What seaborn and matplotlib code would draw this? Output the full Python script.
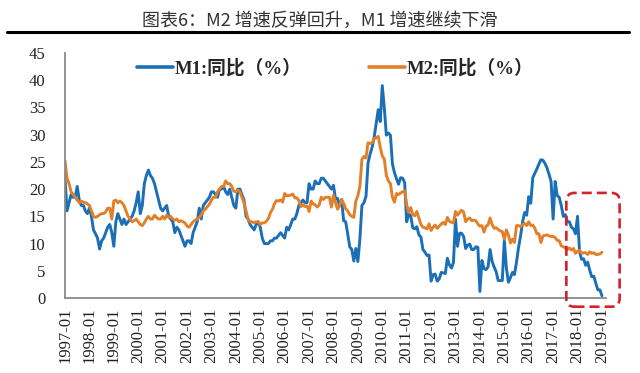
import matplotlib
matplotlib.use("Agg")
import matplotlib.pyplot as plt
from matplotlib.patches import FancyBboxPatch
from matplotlib.lines import Line2D
import seaborn as sns
import pandas as pd

# monthly yoy growth, 1997-01 .. 2019-01
m1 = [
    22.0, 16.0, 17.5, 19.0, 18.5, 18.5, 20.5, 18.0, 17.0, 17.0, 16.0, 15.5,  # 1997
    16.5, 15.0, 12.5, 11.8, 11.0, 9.0, 10.5, 11.0, 12.0, 13.0, 13.5, 12.0,   # 1998
    9.5, 14.0, 15.5, 14.5, 13.5, 14.5, 13.5, 14.0, 14.5, 15.0, 16.0, 17.5,   # 1999
    19.5, 15.5, 17.0, 21.0, 22.5, 23.5, 22.5, 22.0, 21.0, 19.5, 18.0, 16.5,  # 2000
    16.0, 16.5, 17.0, 15.0, 14.5, 14.0, 12.0, 13.0, 12.5, 11.5, 10.5, 9.5,   # 2001
    10.5, 10.5, 10.0, 12.0, 13.0, 14.0, 16.5, 14.5, 17.0, 17.5, 18.0, 18.5,  # 2002
    19.5, 19.5, 19.0, 18.5, 20.0, 20.0, 20.5, 19.5, 19.0, 20.0, 18.5, 17.0,  # 2003
    16.5, 20.0, 20.0, 19.0, 18.0, 15.0, 14.5, 13.5, 13.0, 12.5, 13.5, 14.0,  # 2004
    13.0, 11.0, 10.0, 10.0, 10.0, 10.5, 10.5, 11.0, 11.0, 11.5, 12.0, 11.5,  # 2005
    11.0, 13.0, 12.5, 13.5, 14.5, 14.5, 15.5, 17.0, 17.5, 18.0, 17.5, 17.5,  # 2006
    21.0, 20.0, 20.0, 21.5, 21.0, 21.0, 22.0, 22.0, 21.5, 21.0, 20.5, 20.0,  # 2007
    20.7, 18.2, 18.3, 16.9, 18.1, 14.2, 14.0, 11.8, 9.4, 8.9, 6.8, 9.1,      # 2008
    6.7, 10.9, 17.0, 17.5, 18.7, 24.8, 26.4, 27.7, 29.5, 32.0, 34.6, 32.4,   # 2009
    39.0, 34.9, 29.9, 30.3, 29.9, 24.6, 23.0, 21.9, 20.9, 22.1, 22.0, 21.2,  # 2010
    14.0, 15.5, 15.0, 12.9, 12.7, 13.1, 11.6, 11.2, 8.9, 8.4, 7.8, 7.9,      # 2011
    3.1, 4.3, 4.4, 3.1, 3.5, 4.7, 4.6, 4.5, 7.3, 6.1, 5.5, 6.5,              # 2012
    14.5, 9.5, 11.9, 11.9, 11.3, 9.1, 9.7, 9.9, 8.9, 8.9, 9.4, 9.3,          # 2013
    1.2, 6.9, 5.4, 5.2, 5.7, 8.9, 6.7, 5.7, 4.8, 3.2, 3.2, 3.2,              # 2014
    10.6, 5.6, 2.9, 3.7, 4.7, 4.3, 6.6, 9.3, 11.4, 14.0, 15.7, 15.2,         # 2015
    18.6, 17.4, 22.1, 22.9, 23.7, 24.6, 25.4, 25.3, 24.7, 23.9, 22.7, 21.4,  # 2016
    14.5, 21.4, 18.8, 18.5, 17.0, 15.0, 15.3, 14.0, 14.0, 13.0, 12.7, 11.8,  # 2017
    15.0, 8.5, 7.1, 7.2, 6.0, 6.6, 5.1, 3.9, 4.0, 2.7, 1.5, 1.5,             # 2018
    0.4,                                                                     # 2019
]
m2 = [
    25.2, 22.0, 21.0, 19.5, 19.0, 18.5, 18.0, 17.5, 17.8, 17.6, 17.5, 17.3,  # 1997
    17.0, 16.0, 15.0, 14.8, 15.0, 15.3, 15.5, 15.5, 15.8, 16.5, 16.5, 14.5,  # 1998
    17.8, 18.0, 17.5, 17.8, 17.5, 17.0, 16.0, 15.0, 14.5, 14.0, 14.2, 14.5,  # 1999
    14.0, 13.5, 13.3, 13.8, 14.5, 15.0, 14.5, 14.5, 15.2, 14.8, 14.5, 14.5,  # 2000
    15.0, 14.5, 15.2, 14.8, 15.0, 14.5, 14.3, 14.5, 14.0, 14.2, 14.0, 13.8,  # 2001
    13.2, 13.0, 13.5, 14.0, 14.3, 14.5, 14.8, 15.3, 16.0, 16.3, 16.8, 17.2,  # 2002
    18.0, 18.5, 18.5, 19.5, 20.0, 20.5, 20.5, 21.5, 21.0, 21.0, 20.5, 19.6,  # 2003
    19.5, 19.8, 19.5, 18.5, 17.5, 16.0, 14.5, 14.0, 14.0, 13.8, 14.0, 14.0,  # 2004
    13.5, 13.8, 13.8, 14.1, 14.6, 15.7, 16.3, 17.3, 17.9, 17.8, 18.0, 17.6,  # 2005
    19.2, 18.8, 18.8, 18.9, 19.1, 18.4, 18.4, 17.9, 16.8, 17.1, 16.8, 16.9,  # 2006
    15.9, 17.8, 17.3, 17.1, 16.7, 17.1, 18.5, 18.1, 18.5, 18.5, 18.5, 16.7,  # 2007
    18.9, 17.5, 16.3, 16.9, 18.1, 17.4, 16.4, 16.0, 15.3, 15.0, 14.8, 17.8,  # 2008
    18.8, 20.5, 25.5, 26.0, 25.7, 28.5, 28.4, 28.5, 29.3, 29.4, 29.7, 27.7,  # 2009
    26.1, 25.5, 22.5, 21.5, 21.0, 18.5, 17.6, 19.2, 19.0, 19.3, 19.5, 19.7,  # 2010
    17.2, 15.7, 16.6, 15.3, 15.1, 15.9, 14.7, 13.5, 13.0, 12.9, 12.7, 13.6,  # 2011
    12.4, 13.0, 13.4, 12.8, 13.2, 13.6, 13.9, 13.5, 14.8, 14.1, 13.9, 13.8,  # 2012
    15.9, 15.2, 15.7, 16.1, 15.8, 14.0, 14.5, 14.7, 14.2, 14.3, 14.2, 13.6,  # 2013
    13.2, 13.3, 12.1, 13.2, 13.4, 14.7, 13.5, 12.8, 12.9, 12.6, 12.3, 12.2,  # 2014
    10.8, 12.5, 11.6, 10.1, 10.8, 10.2, 13.3, 13.3, 13.1, 13.5, 13.7, 13.3,  # 2015
    14.0, 13.3, 13.4, 12.8, 11.8, 11.8, 10.2, 11.4, 11.5, 11.6, 11.4, 11.3,  # 2016
    11.3, 11.1, 10.6, 10.5, 9.6, 9.4, 9.2, 8.9, 9.2, 8.8, 9.1, 8.2,          # 2017
    8.6, 8.8, 8.2, 8.3, 8.3, 8.0, 8.5, 8.2, 8.3, 8.0, 8.0, 8.1,              # 2018
    8.4,                                                                     # 2019
]
years = list(range(1997, 2020))
tick_labels = [f"{y}-01" for y in years]
title = "图表6：M2 增速反弹回升，M1 增速继续下滑"
label_m1 = "M1:同比（%）"
label_m2 = "M2:同比（%）"

months = list(range(len(m1)))
df = pd.DataFrame({"t": months, "M1": m1, "M2": m2})

sns.set_style("white")
plt.rcParams['font.family'] = ['Liberation Serif', 'Noto Sans CJK SC']

blue = "#1a6fb6"
orange = "#e2802a"
grey = "#8a8a8a"

fig = plt.figure(figsize=(6.4, 3.73), dpi=100)
ax = fig.add_axes([65/640, 75/373, 541/640, 245/373])

sns.lineplot(data=df, x="t", y="M1", color=blue, lw=2.1, ax=ax, label=label_m1)
sns.lineplot(data=df, x="t", y="M2", color=orange, lw=2.1, ax=ax, label=label_m2)

ax.set_xlim(0, 266)
ax.set_ylim(0, 45)
ax.set_yticks(range(0, 50, 5))
ax.set_xticks(range(0, len(m1), 12))
ax.set_xticklabels(tick_labels, rotation=90)
ax.set_xlabel("")
ax.set_ylabel("")
for s in ["top", "right"]:
    ax.spines[s].set_visible(False)
for s in ["left", "bottom"]:
    ax.spines[s].set_color(grey)
    ax.spines[s].set_linewidth(1.3)
ax.tick_params(axis="both", colors=grey, labelcolor="#222222", direction="out",
               length=4, width=1.2, labelsize=12)
ax.tick_params(axis="x", pad=3)
ax.tick_params(axis="y", pad=10)

handles = [Line2D([], [], color=blue, lw=2.6), Line2D([], [], color=orange, lw=2.6)]
ax.legend(handles, [label_m1, label_m2], loc="upper center", bbox_to_anchor=(0.5, 1.045),
          ncol=2, frameon=False, handlelength=1.9, handletextpad=0.1, columnspacing=3.6,
          prop={"family": ['Liberation Serif', 'Noto Sans CJK SC'], "weight": "bold", "size": 13.5})

# red dashed highlight box around the latest year
box = FancyBboxPatch((246.5, -1.6), 26.2, 20.9,
                     boxstyle="round,pad=0,rounding_size=4",
                     mutation_aspect=0.374, fill=False, ec="#d3222c", lw=1.9,
                     ls=(0, (3.8, 1.9)), clip_on=False, zorder=5)
ax.add_patch(box)

fig.text(0.5, 1 - 21/373, title, ha="center", va="center", fontsize=13, color="#333333",
         family=['Noto Sans CJK SC', 'Liberation Serif'])
fig.add_artist(Line2D([7/640, 629/640], [1 - 32/373, 1 - 32/373], color="black", lw=2.2))

fig.savefig("out.png", dpi=100)
